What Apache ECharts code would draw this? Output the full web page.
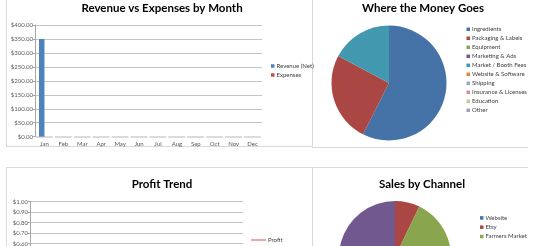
<!DOCTYPE html>
<html><head><meta charset="utf-8">
<script src="https://cdn.jsdelivr.net/npm/echarts@6/dist/echarts.min.js"></script>
<style>html,body{margin:0;padding:0;background:#fff;overflow:hidden;width:533px;height:246px}#c{width:533px;height:330px}</style>
</head><body><div id="c"></div>
<script>
const months = ['Jan','Feb','Mar','Apr','May','Jun','Jul','Aug','Sep','Oct','Nov','Dec'];
const revenueNet = [350,0,0,0,0,0,0,0,0,0,0,0];
const expenses = [0,0,0,0,0,0,0,0,0,0,0,0];
const expenseCategories = ['Ingredients','Packaging & Labels','Equipment','Marketing & Ads','Market / Booth Fees','Website & Software','Shipping','Insurance & Licenses','Education','Other'];
const expenseValues = [200,88,0,0,60,0,0,0,0,0];
const profit = [0,0,0,0,0,0,0,0,0,0,0,0];
const channels = ['Website','Etsy','Farmers Market','Wholesale'];
const channelSales = [0,25,165,160];
const legendChannels = ['Website','Etsy','Farmers Market'];

const FONT = 'Lato';
const pieColors = ['#4572A7','#AA4643','#89A54E','#71588F','#4198AF','#DB843D','#93A9CF','#D19392','#B9CD96','#A99BBD'];
const money = v => '$' + v.toFixed(2);
const border = '#d9d9d9';
const gridColor = '#c4c4c4';
const labelColor = '#595959';

const chart = echarts.init(document.getElementById('c'), null, {renderer:'canvas'});
const titleStyle = {fontFamily: FONT, fontWeight: 'bold', fontSize: 11.5, color: '#000'};
const legendText = {fontFamily: FONT, fontSize: 6, color: '#404040', lineHeight: 9, padding:[0,0,0,-3]};

function line(x1,y1,x2,y2){return {type:'line', shape:{x1,y1,x2,y2}, style:{stroke:border, lineWidth:1}, silent:true};}

chart.setOption({
  animation: false,
  backgroundColor: '#fff',
  graphic: [
    line(6.5,0,6.5,146.5), line(6,146.5,312,146.5),
    line(312.5,0,312.5,147.5), line(312,147.5,528,147.5),
    line(6,167.5,528,167.5), line(6.5,167,6.5,330), line(312.5,167,312.5,330)
  ],
  title: [
    {text:'Revenue vs Expenses by Month', left:162, textAlign:'center', top:2, padding:0, textStyle:titleStyle},
    {text:'Where the Money Goes', left:423, textAlign:'center', top:2.5, padding:0, textStyle:titleStyle},
    {text:'Profit Trend', left:162, textAlign:'center', top:178, padding:0, textStyle:titleStyle},
    {text:'Sales by Channel', left:422, textAlign:'center', top:178, padding:0, textStyle:titleStyle}
  ],
  legend: [
    {orient:'vertical', left:271, top:61.5, padding:0, itemGap:0, itemWidth:3.5, itemHeight:3.5, icon:'rect',
     data:['Revenue (Net)','Expenses'], textStyle:legendText},
    {orient:'vertical', left:466.5, top:24.8, padding:0, itemGap:0, itemWidth:3.5, itemHeight:3.5, icon:'rect',
     data: expenseCategories, textStyle:legendText},
    {orient:'vertical', left:251, top:235.5, padding:0, itemGap:0, itemWidth:15, itemHeight:2, icon:'rect',
     data:['Profit'], textStyle:legendText},
    {orient:'vertical', left:480, top:213.4, padding:0, itemGap:0.3, itemWidth:3.5, itemHeight:3.5, icon:'rect',
     data: legendChannels, textStyle:legendText}
  ],
  grid: [
    {left:35, top:25, width:227, height:111.7, containLabel:false},
    {left:30, top:201.7, width:213, height:105, containLabel:false}
  ],
  xAxis: [
    {type:'category', gridIndex:0, data:months,
     axisLine:{lineStyle:{color:'#d0d0d0', width:1.5, type:[15.9,3], dashOffset:17.4}},
     axisTick:{show:false},
     axisLabel:{fontFamily:FONT, fontSize:6, color:labelColor, margin:4}},
    {type:'category', gridIndex:1, data:months, axisLine:{lineStyle:{color:'#d0d0d0'}}, axisTick:{show:false},
     axisLabel:{fontFamily:FONT, fontSize:6, color:labelColor}}
  ],
  yAxis: [
    {type:'value', gridIndex:0, min:0, max:400, interval:50,
     axisLine:{show:true, lineStyle:{color:'#a6a6a6'}},
     axisTick:{show:true, length:2, lineStyle:{color:'#a6a6a6'}},
     splitLine:{show:true, showMinLine:false, lineStyle:{color:gridColor, width:1}},
     axisLabel:{fontFamily:FONT, fontSize:6, color:labelColor, margin:2, formatter:money}},
    {type:'value', gridIndex:1, min:0, max:1, interval:0.1,
     axisLine:{show:true, lineStyle:{color:'#a6a6a6'}},
     axisTick:{show:true, length:2, lineStyle:{color:'#a6a6a6'}},
     splitLine:{show:true, lineStyle:{color:gridColor, width:1}},
     axisLabel:{fontFamily:FONT, fontSize:6, color:labelColor, margin:2, formatter:money}}
  ],
  series: [
    {name:'Revenue (Net)', type:'bar', xAxisIndex:0, yAxisIndex:0, data:revenueNet, barGap:'0%', barCategoryGap:'42%',
     itemStyle:{color:'#4F81BD'}},
    {name:'Expenses', type:'bar', xAxisIndex:0, yAxisIndex:0, data:expenses, itemStyle:{color:'#C0504D'}},
    {name:'Profit', type:'line', xAxisIndex:1, yAxisIndex:1, data:profit, symbol:'none',
     itemStyle:{color:'#E6A9A8'}, lineStyle:{color:'#E6A9A8', width:2}},
    {name:'Where the Money Goes', type:'pie', center:[389,83], radius:57.5, startAngle:90, clockwise:true,
     data: expenseCategories.map((n,i)=>({name:n, value:expenseValues[i], itemStyle:{color:pieColors[i]}})),
     label:{show:false}, labelLine:{show:false}, itemStyle:{borderWidth:0}, emphasis:{disabled:true}},
    {name:'Sales by Channel', type:'pie', center:[395,257], radius:56, startAngle:90, clockwise:true,
     data: channels.map((n,i)=>({name:n, value:channelSales[i], itemStyle:{color:pieColors[i]}})),
     label:{show:false}, labelLine:{show:false}, itemStyle:{borderWidth:0}, emphasis:{disabled:true}}
  ]
});
</script></body></html>
